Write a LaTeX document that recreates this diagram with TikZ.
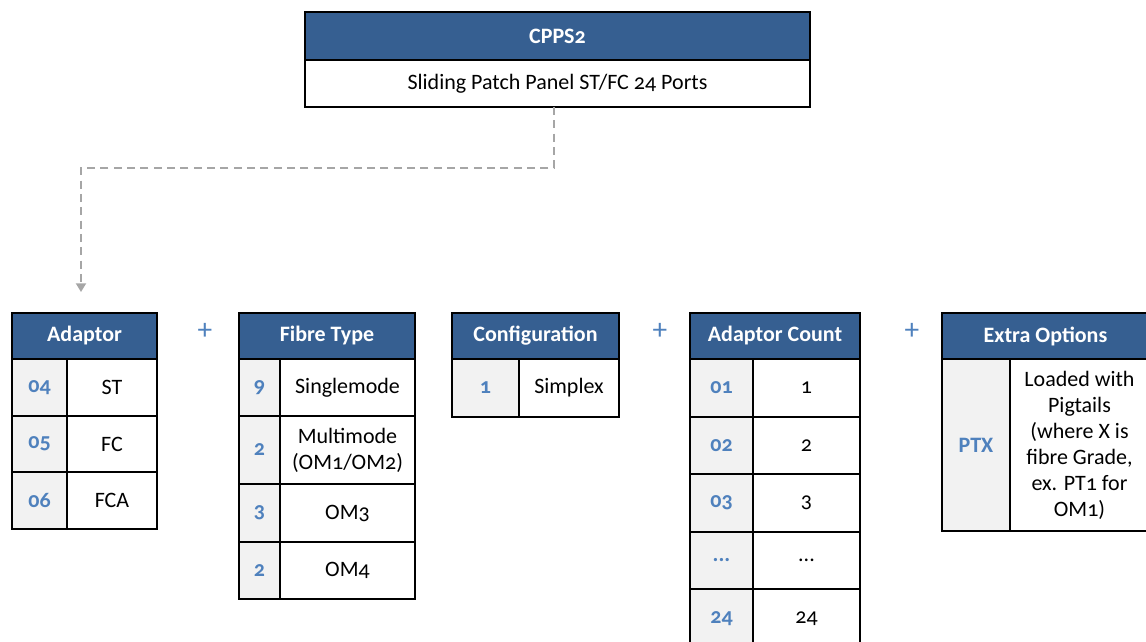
\documentclass[tikz,border=0pt]{standalone}
\usepackage{fontspec}
\setmainfont{Carlito}[Numbers=OldStyle]
\usetikzlibrary{arrows.meta}
\definecolor{hdrblue}{HTML}{365F91}
\definecolor{codeblue}{HTML}{4F81BD}
\definecolor{codegray}{HTML}{F2F2F2}
\definecolor{conngray}{HTML}{A6A6A6}
\newcommand\cell[7]{\node[#6, minimum width={(#4-#2)*0.75pt}, minimum height={(#5-#3)*0.75pt}] (#1) at ({(#2+#4)/2},{(#3+#5)/2}) {#7};}
\tikzset{
  base/.style={draw=black, line width=1.5pt, inner sep=0pt, outer sep=0pt, font=\fontsize{16.5}{19.5}\selectfont, align=center},
  hdr/.style={base, fill=hdrblue, text=white, font=\fontsize{16.5}{19.5}\selectfont\bfseries},
  code/.style={base, fill=codegray, text=codeblue, font=\fontsize{16.5}{19.5}\selectfont\bfseries},
  val/.style={base, fill=white},
  plus/.style={text=codeblue, font=\fontsize{22}{24}\selectfont},
  conn/.style={draw=conngray, line width=1.4pt, dash pattern=on 6pt off 4pt, -{Triangle[width=7.5pt,length=6.5pt,fill=conngray]}}
}
\begin{document}
\begin{tikzpicture}[x=0.75pt,y=-0.75pt]
\useasboundingbox (0,0) rectangle (1146,642);
% top box
\cell{tophdr}{305}{12}{810}{60}{hdr}{CPPS2}
\cell{topbody}{305}{60}{810}{107}{val}{Sliding Patch Panel ST/FC 24 Ports}
% connector
\coordinate (bend) at (81,168);
\coordinate (tip) at (81,292);
\draw[conn] ([xshift=-2.6pt]topbody.south) |- (bend) -- (tip);
% Adaptor
\cell{adhdr}{12}{313}{157}{359}{hdr}{Adaptor}
\cell{adc1}{12}{359}{67}{416}{code}{04}
\cell{adv1}{67}{359}{157}{416}{val}{ST}
\cell{adc2}{12}{416}{67}{472}{code}{05}
\cell{adv2}{67}{416}{157}{472}{val}{FC}
\cell{adc3}{12}{472}{67}{529}{code}{06}
\cell{adv3}{67}{472}{157}{529}{val}{FCA}
\node[plus] (plus1) at (205,331) {+};
% Fibre Type
\cell{fthdr}{239}{313}{415}{359}{hdr}{Fibre Type}
\cell{ftc1}{239}{359}{280}{416}{code}{9}
\cell{ftv1}{280}{359}{415}{416}{val}{Singlemode}
\cell{ftc2}{239}{416}{280}{484}{code}{2}
\cell{ftv2}{280}{416}{415}{484}{val}{Multimode\\(OM1/OM2)}
\cell{ftc3}{239}{484}{280}{542}{code}{3}
\cell{ftv3}{280}{484}{415}{542}{val}{OM3}
\cell{ftc4}{239}{542}{280}{599}{code}{2}
\cell{ftv4}{280}{542}{415}{599}{val}{OM4}
% Configuration
\cell{cfhdr}{452}{313}{619}{359}{hdr}{Configuration}
\cell{cfc1}{452}{359}{519}{417}{code}{1}
\cell{cfv1}{519}{359}{619}{417}{val}{Simplex}
\node[plus] (plus2) at (660,331) {+};
% Adaptor Count
\cell{achdr}{690}{313}{860}{359}{hdr}{Adaptor Count}
\cell{acc1}{690}{359}{753}{417}{code}{01}
\cell{acv1}{753}{359}{860}{417}{val}{1}
\cell{acc2}{690}{417}{753}{474}{code}{02}
\cell{acv2}{753}{417}{860}{474}{val}{2}
\cell{acc3}{690}{474}{753}{532}{code}{03}
\cell{acv3}{753}{474}{860}{532}{val}{3}
\cell{acc4}{690}{532}{753}{589}{code}{...}
\cell{acv4}{753}{532}{860}{589}{val}{...}
\cell{acc5}{690}{589}{753}{648}{code}{24}
\cell{acv5}{753}{589}{860}{648}{val}{24}
\node[plus] (plus3) at (912,331) {+};
% Extra Options
\cell{eohdr}{942}{313}{1149}{359}{hdr}{Extra Options}
\cell{eoc1}{942}{359}{1010}{531}{code}{PTX}
\cell{eov1}{1010}{359}{1149}{531}{val}{Loaded with\\Pigtails\\(where X is\\fibre Grade,\\ex. PT1 for\\OM1)}
\end{tikzpicture}
\end{document}
